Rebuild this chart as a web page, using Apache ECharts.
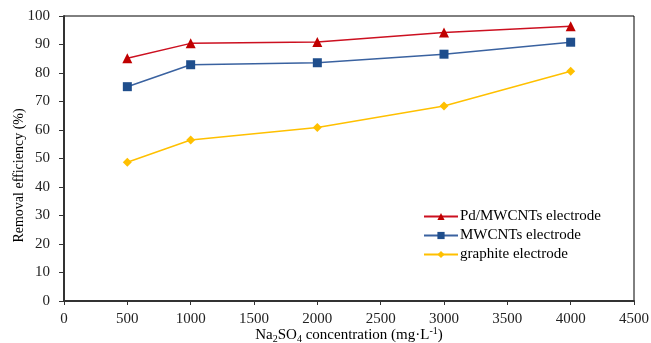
<!DOCTYPE html>
<html>
<head>
<meta charset="utf-8">
<script src="https://cdn.jsdelivr.net/npm/echarts@6/dist/echarts.min.js"></script>
<style>
  html, body { margin: 0; padding: 0; background: #fff; }
  #chart { width: 651px; height: 343px; }
</style>
</head>
<body>
<div id="chart"></div>
<script>
// concentrations (mg/L)
var concentrations = [500, 1000, 2000, 3000, 4000];
var pdMwcnts = [85.2, 90.4, 90.9, 94.2, 96.4];
var mwcnts = [75.2, 82.9, 83.6, 86.6, 90.8];
var graphite = [48.7, 56.5, 60.9, 68.4, 80.6];
var seriesNames = ['Pd/MWCNTs electrode', 'MWCNTs electrode', 'graphite electrode'];

function pairs(ys){
    return concentrations.map(function(x, i){ return [x, ys[i]]; });
}

var font = 'Liberation Serif';
var myChart = echarts.init(document.getElementById('chart'));

myChart.setOption({
    animation: false,
    textStyle: { fontFamily: font },
    grid: {
        left: 64, right: 17, top: 16, bottom: 42,
        containLabel: false, outerBoundsMode: 'none',
        show: true, borderColor: '#000', borderWidth: 1
    },
    legend: {
        orient: 'vertical',
        left: 418, top: 204,
        itemWidth: 34, itemHeight: 9, itemGap: 4,
        textStyle: { fontFamily: font, fontSize: 15, color: '#000', padding: [0, 0, 0, -3] },
        data: seriesNames
    },
    xAxis: {
        type: 'value', min: 0, max: 4500, interval: 500,
        name: '{t|Na}{s|2}{t|SO}{s|4}{t| concentration (mg·L}{p|-1}{t|)}',
        nameLocation: 'middle', nameGap: 25, nameMoveOverlap: false,
        nameTextStyle: {
            rich: {
                t: { fontFamily: font, fontSize: 15, color: '#000' },
                s: { fontFamily: font, fontSize: 10, color: '#000', padding: [8, 0, 0, 0] },
                p: { fontFamily: font, fontSize: 10, color: '#000', padding: [0, 0, 7, 0] }
            }
        },
        axisLine: { lineStyle: { color: '#333', width: 2 } },
        axisTick: { inside: false, length: 4, lineStyle: { color: '#333' } },
        axisLabel: {
            fontFamily: font, fontSize: 15, color: '#222', margin: 11,
            formatter: function(v){ return String(v); }
        },
        splitLine: { show: false }
    },
    yAxis: {
        type: 'value', min: 0, max: 100, interval: 10,
        name: 'Removal efficiency (%)',
        nameLocation: 'middle', nameGap: 38, nameMoveOverlap: false,
        nameTextStyle: { fontFamily: font, fontSize: 14, color: '#000', padding: [0, 34, 0, 0] },
        axisLine: { show: true, lineStyle: { color: '#333', width: 2 } },
        axisTick: { show: true, inside: false, length: 5, lineStyle: { color: '#333' } },
        axisLabel: { fontFamily: font, fontSize: 15, color: '#222', margin: 14 },
        splitLine: { show: false }
    },
    series: [
        {
            name: seriesNames[0], type: 'line', data: pairs(pdMwcnts),
            symbol: 'triangle', symbolSize: 10,
            lineStyle: { color: '#cc1020', width: 1.5 },
            itemStyle: { color: '#c00000' }
        },
        {
            name: seriesNames[1], type: 'line', data: pairs(mwcnts),
            symbol: 'rect', symbolSize: 9,
            lineStyle: { color: '#3a62a0', width: 1.5 },
            itemStyle: { color: '#1f4e8c' }
        },
        {
            name: seriesNames[2], type: 'line', data: pairs(graphite),
            symbol: 'diamond', symbolSize: 9,
            lineStyle: { color: '#ffc000', width: 1.5 },
            itemStyle: { color: '#ffc000' }
        }
    ]
});
</script>
</body>
</html>
